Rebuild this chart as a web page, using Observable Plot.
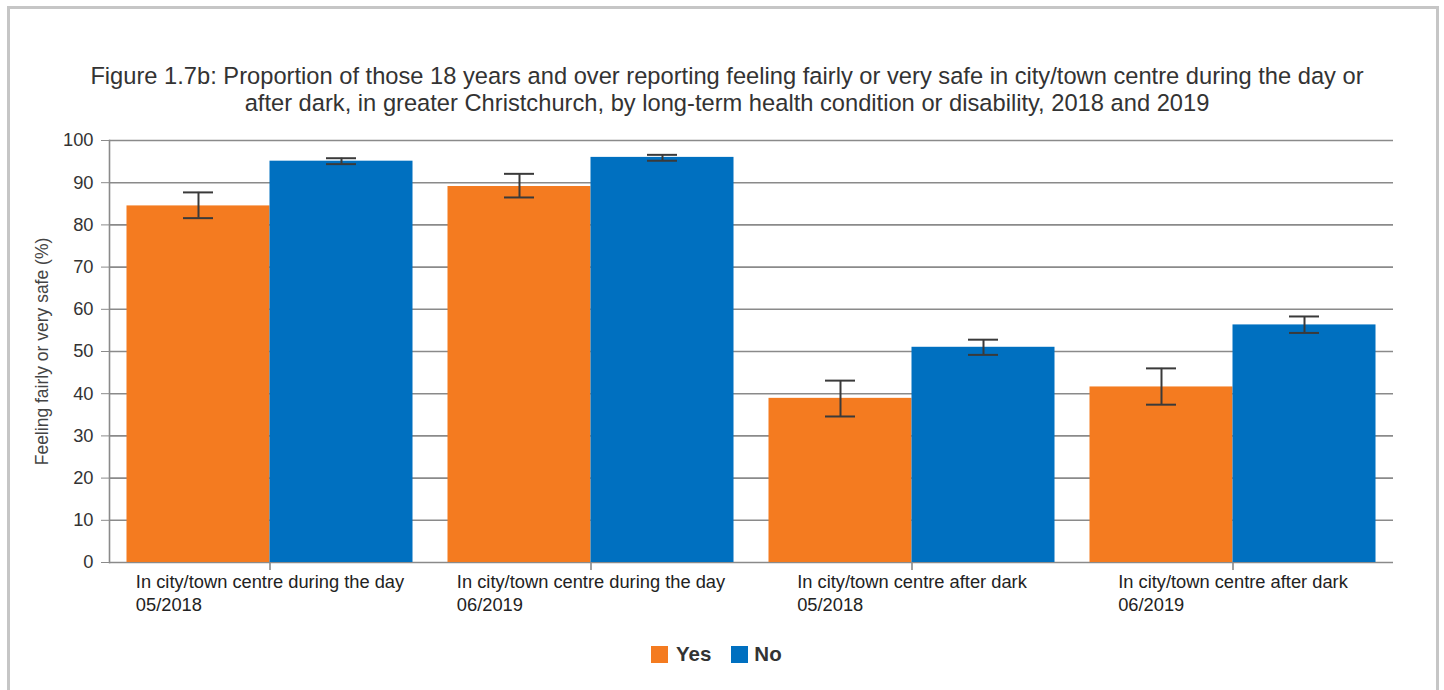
<!DOCTYPE html>
<html>
<head>
<meta charset="utf-8">
<script src="https://cdn.jsdelivr.net/npm/d3@7"></script>
<script src="https://cdn.jsdelivr.net/npm/@observablehq/plot@0.6"></script>
<style>
  html, body { margin: 0; padding: 0; background: #fff; }
  body { width: 1444px; height: 690px; position: relative; overflow: hidden; font-family: "Liberation Sans", Arial, sans-serif; }
  #box { position: absolute; left: 7px; top: 6px; width: 1426px; height: 700px; border: 3px solid #c6c6c6; }
  #title { position: absolute; left: 0; top: 63px; width: 1454px; text-align: center; font-size: 23.7px; line-height: 27px; color: #333; }
  #chart { position: absolute; left: 0; top: 125px; }
  #legend { position: absolute; left: 651px; top: 642px; display: flex; align-items: center; font-size: 20.5px; font-weight: bold; color: #333; }
  .sw { display: inline-block; width: 17px; height: 17px; margin-right: 8px; }
</style>
</head>
<body>
<div id="box"></div>
<div id="title">Figure 1.7b: Proportion of those 18 years and over reporting feeling fairly or very safe in city/town centre during the day or<br>after dark, in greater Christchurch, by long-term health condition or disability, 2018 and 2019</div>
<div id="chart"></div>
<div id="legend"><span class="sw" style="background:#F47B20"></span><span>Yes</span><span class="sw" style="background:#0070C0; margin-left:20px; margin-right:6px"></span><span>No</span></div>
<script>
// ---- data ----
const categories = [
  "In city/town centre during the day\n05/2018",
  "In city/town centre during the day\n06/2019",
  "In city/town centre after dark\n05/2018",
  "In city/town centre after dark\n06/2019"
];
const series = ["Yes", "No"];
const yesValues = [84.5, 89.1, 38.9, 41.6];
const yesLow    = [81.6, 86.5, 34.6, 37.4];
const yesHigh   = [87.7, 92.1, 43.1, 46.0];
const noValues  = [95.1, 96.0, 51.0, 56.3];
const noLow     = [94.4, 95.2, 49.2, 54.4];
const noHigh    = [95.8, 96.6, 52.8, 58.3];
const yTicks = [0, 10, 20, 30, 40, 50, 60, 70, 80, 90, 100];
const yLabel = "Feeling fairly or very safe (%)";

const colors = {Yes: "#F47B20", No: "#0070C0"};

const yesData = categories.map((c, i) => ({cat: c, series: "Yes", value: yesValues[i], lo: yesLow[i], hi: yesHigh[i]}));
const noData  = categories.map((c, i) => ({cat: c, series: "No",  value: noValues[i],  lo: noLow[i],  hi: noHigh[i]}));

const W = 1444, H = 497;
const base = {
  width: W, height: H,
  marginTop: 15, marginBottom: 60, marginLeft: 109, marginRight: 51,
  style: {fontFamily: "'Liberation Sans', Arial, sans-serif", color: "#333", background: "transparent", overflow: "visible"},
  x: {domain: categories, paddingInner: 0.109, paddingOuter: 0.0545, round: false, label: null},
  y: {domain: [0, 100], label: null}
};

// probe for bandwidth
const probe = Plot.plot({...base, marks: [Plot.barY(yesData, {x: "cat", y: "value"})]});
const bw = probe.scale("x").bandwidth;
const capHalf = 15;

// label widths
const cv = document.createElement("canvas").getContext("2d");
const labelFont = 18.3;
cv.font = `${labelFont}px 'Liberation Sans', Arial, sans-serif`;

const labelMarks = categories.map(c => {
  const first = c.split("\n")[0];
  const w = cv.measureText(first).width;
  return Plot.text([c], {
    x: d => d, text: d => d, frameAnchor: "bottom", textAnchor: "start", lineAnchor: "top",
    dy: 9, dx: -w / 2, fontSize: labelFont, lineHeight: 1.26, fill: "#222"
  });
});

const errMarks = (data, dx, insetL, insetR) => [
  Plot.ruleX(data, {x: "cat", y1: "lo", y2: "hi", dx, stroke: "#3a3a3a", strokeWidth: 2}),
  Plot.tickY(data, {x: "cat", y: "lo", insetLeft: insetL, insetRight: insetR, stroke: "#3a3a3a", strokeWidth: 2}),
  Plot.tickY(data, {x: "cat", y: "hi", insetLeft: insetL, insetRight: insetR, stroke: "#3a3a3a", strokeWidth: 2})
];

const chart = Plot.plot({
  ...base,
  marks: [
    Plot.gridY(yTicks, {stroke: "#8a8a8a", strokeOpacity: 1, strokeWidth: 1.6}),
    Plot.frame({anchor: "left", stroke: "#8a8a8a", strokeWidth: 1.6}),
    Plot.axisY(yTicks, {tickSize: 8, tickPadding: 8, fontSize: 18.3, stroke: "#8a8a8a", fill: "#333", label: null}),
    Plot.axisY([], {label: yLabel, labelArrow: false, labelAnchor: "center", labelOffset: 74, fontSize: 17.5, fill: "#444"}),
    Plot.axisX({tickSize: 8, tickFormat: () => "", stroke: "#8a8a8a", strokeWidth: 1.6, label: null}),
    Plot.barY(yesData, {x: "cat", y: "value", fill: colors.Yes, insetRight: bw / 2}),
    Plot.barY(noData,  {x: "cat", y: "value", fill: colors.No,  insetLeft: bw / 2}),
    ...errMarks(yesData, -bw / 4, bw / 4 - capHalf, 3 * bw / 4 - capHalf),
    ...errMarks(noData, bw / 4, 3 * bw / 4 - capHalf, bw / 4 - capHalf),
    ...labelMarks
  ]
});
document.getElementById("chart").appendChild(chart);
</script>
</body>
</html>
